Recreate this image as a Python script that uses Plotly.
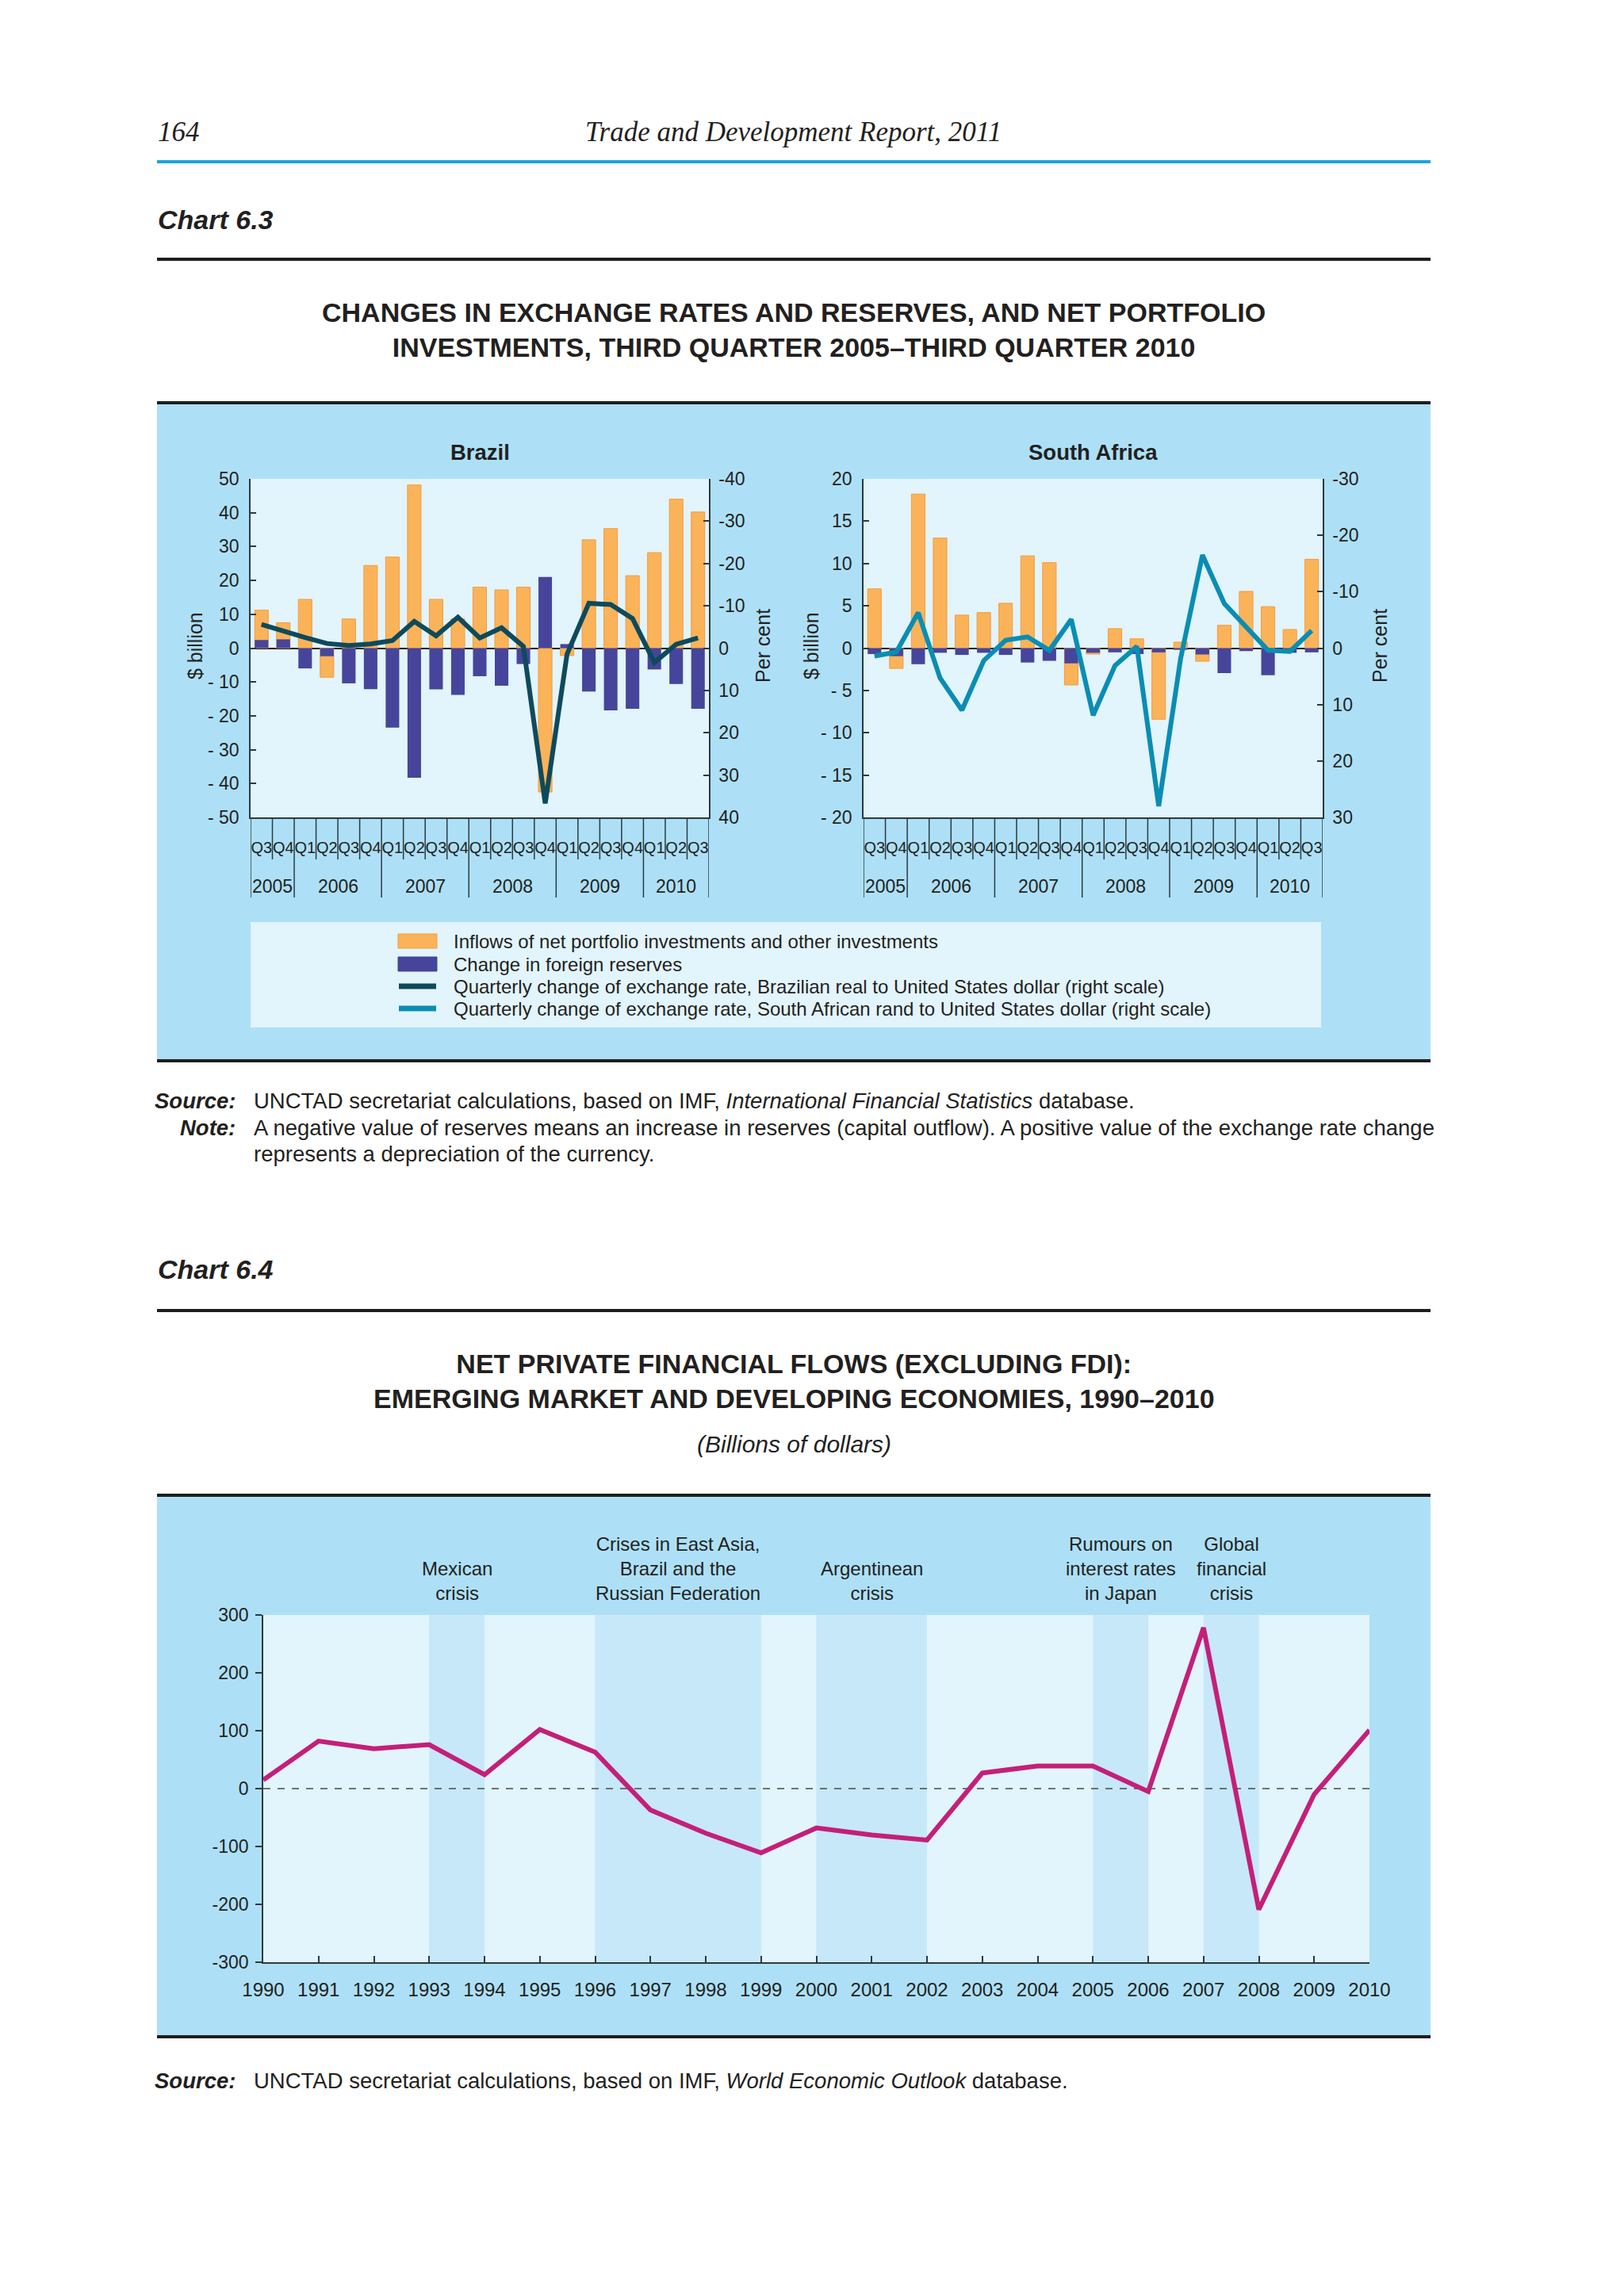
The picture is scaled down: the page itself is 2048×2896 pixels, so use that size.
import plotly.graph_objects as go

W, H = 2048, 2896
OFF = 8  # default page margin of the html body


def px(x):
    return (x - OFF) / W


def py(y):
    return 1 - (y - OFF) / H


# ---------------- DATA ----------------
quarters = ["Q3", "Q4", "Q1", "Q2", "Q3", "Q4", "Q1", "Q2", "Q3", "Q4", "Q1",
            "Q2", "Q3", "Q4", "Q1", "Q2", "Q3", "Q4", "Q1", "Q2", "Q3"]
quarter_years = ["2005"] * 2 + ["2006"] * 4 + ["2007"] * 4 + ["2008"] * 4 + ["2009"] * 4 + ["2010"] * 3

brazil_inflows = [11.2, 7.5, 14.4, -8.6, 8.6, 24.4, 26.9, 48.2, 14.4, 8.7, 18.0,
                  17.2, 18.0, -42.5, -2.2, 32.0, 35.3, 21.4, 28.2, 44.0, 40.2]
brazil_reserves = [2.4, 2.6, -6.0, -2.4, -10.4, -12.1, -23.5, -38.3, -12.2, -13.8, -8.3,
                   -11.1, -4.7, 21.0, 1.2, -12.8, -18.4, -17.9, -6.3, -10.6, -17.9]
brazil_fx = [-5.6, -4.0, -2.5, -1.1, -0.6, -1.0, -1.8, -6.3, -2.9, -7.3, -2.4,
             -4.8, -0.4, 36.7, 1.4, -10.6, -10.3, -7.0, 3.4, -0.9, -2.4]

sa_inflows = [7.0, -2.4, 18.2, 13.0, 3.9, 4.2, 5.3, 10.9, 10.1, -4.35, -0.7,
              2.3, 1.1, -8.4, 0.7, -1.55, 2.7, 6.7, 4.9, 2.2, 10.5]
sa_reserves = [-0.7, -0.95, -1.9, -0.55, -0.8, -0.55, -0.8, -1.7, -1.5, -1.8, -0.55,
               -0.5, -0.7, -0.5, -0.2, -0.75, -2.95, -0.35, -3.2, -0.55, -0.5]
sa_fx = [1.4, 0.7, -6.3, 5.3, 11.0, 2.2, -1.4, -2.0, 0.4, -5.1, 11.9,
         3.1, -0.3, 28.0, 1.9, -16.5, -7.9, -3.8, 0.4, 0.6, -3.1]

flow_years = list(range(1990, 2011))
net_flows = [15, 82, 69, 76, 24, 102, 63, -37, -77, -111, -68, -80, -89,
             27, 39, 39, -5, 278, -209, -10, 101]

crisis_periods = [(1993, 1994), (1996, 1999), (2000, 2002), (2005, 2006), (2007, 2008)]
crisis_labels = ["Mexican<br>crisis",
                 "Crises in East Asia,<br>Brazil and the<br>Russian Federation",
                 "Argentinean<br>crisis",
                 "Rumours on<br>interest rates<br>in Japan",
                 "Global<br>financial<br>crisis"]

legend_names = ["Inflows of net portfolio investments and other investments",
                "Change in foreign reserves",
                "Quarterly change of exchange rate, Brazilian real to United States dollar (right scale)",
                "Quarterly change of exchange rate, South African rand to United States dollar (right scale)"]

# ---------------- STYLE ----------------
FONT = "Liberation Sans, Arial, sans-serif"
SERIF = "Liberation Serif, Times New Roman, serif"
TXT = "#231f20"
AX = "#2b3a42"
ORANGE = "#fbb35a"
ORANGE_EDGE = "#f29c3a"
PURPLE = "#46459b"
BRAZIL_LINE = "#0e4a5c"
SA_LINE = "#0a8db3"
MAGENTA = "#c41f7a"
PANEL = "#ade0f6"
INNER = "#e2f4fc"
BAND = "#c6e8f8"

idx = list(range(len(quarters)))

fig = go.Figure()

# Brazil
fig.add_trace(go.Bar(x=idx, y=brazil_inflows, xaxis="x", yaxis="y", width=0.62,
                     marker=dict(color=ORANGE, line=dict(color=ORANGE_EDGE, width=1)),
                     name=legend_names[0], showlegend=False))
fig.add_trace(go.Bar(x=idx, y=brazil_reserves, xaxis="x", yaxis="y", width=0.62,
                     marker=dict(color=PURPLE, line=dict(color=PURPLE, width=0)),
                     name=legend_names[1], showlegend=False))
fig.add_trace(go.Scatter(x=idx, y=brazil_fx, xaxis="x", yaxis="y2", mode="lines",
                         line=dict(color=BRAZIL_LINE, width=6), name=legend_names[2],
                         showlegend=False))
# South Africa
fig.add_trace(go.Bar(x=idx, y=sa_inflows, xaxis="x2", yaxis="y3", width=0.62,
                     marker=dict(color=ORANGE, line=dict(color=ORANGE_EDGE, width=1)),
                     name=legend_names[0], showlegend=False))
fig.add_trace(go.Bar(x=idx, y=sa_reserves, xaxis="x2", yaxis="y3", width=0.62,
                     marker=dict(color=PURPLE, line=dict(color=PURPLE, width=0)),
                     name=legend_names[1], showlegend=False))
fig.add_trace(go.Scatter(x=idx, y=sa_fx, xaxis="x2", yaxis="y4", mode="lines",
                         line=dict(color=SA_LINE, width=6), name=legend_names[3],
                         showlegend=False))
# Chart 6.4
fig.add_trace(go.Scatter(x=flow_years, y=net_flows, xaxis="x3", yaxis="y5", mode="lines",
                         line=dict(color=MAGENTA, width=6), showlegend=False,
                         name="Net private financial flows"))


def fmt_left(v):
    return "- " + str(abs(v)) if v < 0 else str(v)


def fmt_plain(v):
    return "-" + str(abs(v)) if v < 0 else str(v)


tick_font = dict(family=FONT, size=23, color=TXT)
common_axis = dict(showgrid=False, showline=True, linecolor=AX, linewidth=1.5,
                   tickcolor=AX, tickwidth=1.5, automargin=False, tickfont=tick_font)

br_left = list(range(-50, 51, 10))
br_right = list(range(-40, 41, 10))
sa_left = list(range(-20, 21, 5))
sa_right = list(range(-30, 31, 10))
fl_ticks = list(range(-300, 301, 100))

y_dom = [py(1031), py(604)]
q_font = dict(family=FONT, size=20, color=TXT)

fig.update_layout(
    width=W, height=H, margin=dict(l=0, r=0, t=0, b=0),
    paper_bgcolor="white", plot_bgcolor="rgba(0,0,0,0)",
    barmode="overlay", font=dict(family=FONT, color=TXT), showlegend=False,
    xaxis=dict(domain=[px(316), px(894)], anchor="y", range=[-0.5, 20.5],
               tickmode="array", tickvals=idx, ticktext=quarters, ticks="", tickangle=0,
               tickfont=q_font, ticklabelstandoff=19,
               zeroline=False, showgrid=False, showline=True, linecolor=AX, linewidth=1.5,
               automargin=False),
    yaxis=dict(domain=y_dom, anchor="x", range=[-50, 50], tickmode="array",
               tickvals=br_left, ticktext=[fmt_left(v) for v in br_left],
               ticks="inside", ticklen=7, zeroline=True, zerolinecolor="#1e1e1e",
               zerolinewidth=1.5, ticklabelstandoff=8, **common_axis),
    yaxis2=dict(overlaying="y", side="right", anchor="x", range=[40, -40], tickmode="array",
                tickvals=br_right, ticktext=[fmt_plain(v) for v in br_right],
                ticks="inside", ticklen=7, zeroline=False, ticklabelstandoff=6, **common_axis),
    xaxis2=dict(domain=[px(1089), px(1668)], anchor="y3", range=[-0.5, 20.5],
                tickmode="array", tickvals=idx, ticktext=quarters, ticks="", tickangle=0,
                tickfont=q_font, ticklabelstandoff=19,
                zeroline=False, showgrid=False, showline=True, linecolor=AX, linewidth=1.5,
                automargin=False),
    yaxis3=dict(domain=y_dom, anchor="x2", range=[-20, 20], tickmode="array",
                tickvals=sa_left, ticktext=[fmt_left(v) for v in sa_left],
                ticks="inside", ticklen=7, zeroline=True, zerolinecolor="#1e1e1e",
                zerolinewidth=1.5, ticklabelstandoff=8, **common_axis),
    yaxis4=dict(overlaying="y3", side="right", anchor="x2", range=[30, -30], tickmode="array",
                tickvals=sa_right, ticktext=[fmt_plain(v) for v in sa_right],
                ticks="inside", ticklen=7, zeroline=False, ticklabelstandoff=6, **common_axis),
    xaxis3=dict(domain=[px(332), px(1727)], anchor="y5", range=[1990, 2010],
                tickmode="array", tickvals=flow_years, ticktext=[str(y) for y in flow_years],
                ticks="inside", ticklen=8, zeroline=False, ticklabelstandoff=12, tickangle=0,
                showgrid=False, showline=True, linecolor=AX, linewidth=2, tickcolor=AX,
                tickwidth=1.5, automargin=False, tickfont=dict(family=FONT, size=24, color=TXT)),
    yaxis5=dict(domain=[py(2475), py(2037)], anchor="x3", range=[-300, 300], tickmode="array",
                tickvals=fl_ticks, ticktext=[fmt_plain(v) for v in fl_ticks],
                ticks="outside", ticklen=8, zeroline=False, ticklabelstandoff=4, **common_axis),
)

shapes = []
annotations = []


def hrule(y, color="#1e1e1e", width=4):
    shapes.append(dict(type="line", xref="paper", yref="paper", x0=px(198), x1=px(1804),
                       y0=py(y), y1=py(y), line=dict(color=color, width=width), layer="above"))


def txt(x, y, text, size, xanchor="left", family=FONT, angle=0, yanchor="middle"):
    annotations.append(dict(xref="paper", yref="paper", x=px(x), y=py(y), text=text,
                            showarrow=False, xanchor=xanchor, yanchor=yanchor, textangle=angle,
                            font=dict(family=family, size=size, color=TXT), align="center"))


# panels (paper, below)
shapes.append(dict(type="rect", xref="paper", yref="paper", x0=px(198), x1=px(1804),
                   y0=py(1336), y1=py(509), fillcolor=PANEL, line=dict(width=0), layer="below"))
shapes.append(dict(type="rect", xref="paper", yref="paper", x0=px(198), x1=px(1804),
                   y0=py(2568), y1=py(1887), fillcolor=PANEL, line=dict(width=0), layer="below"))
# legend box
shapes.append(dict(type="rect", xref="paper", yref="paper", x0=px(316), x1=px(1666),
                   y0=py(1296), y1=py(1163), fillcolor=INNER, line=dict(width=0), layer="below"))
# plot-area backgrounds
for xr, yr in [("x", "y"), ("x2", "y3"), ("x3", "y5")]:
    shapes.append(dict(type="rect", xref=xr + " domain", yref=yr + " domain", x0=0, x1=1, y0=0, y1=1,
                       fillcolor=INNER, line=dict(width=0), layer="below"))
# crisis bands
for a, b in crisis_periods:
    shapes.append(dict(type="rect", xref="x3", yref="y5", x0=a, x1=b, y0=-300, y1=300,
                       fillcolor=BAND, line=dict(width=0), layer="below"))
shapes.append(dict(type="line", xref="x3", yref="y5", x0=flow_years[0], x1=flow_years[-1], y0=0, y1=0,
                   line=dict(color="#4a4a4a", width=1.5, dash="dash"), layer="below"))

# rules
shapes.append(dict(type="line", xref="paper", yref="paper", x0=px(198), x1=px(1804),
                   y0=py(204), y1=py(204), line=dict(color="#1ba4dd", width=4), layer="above"))
for y in (327, 508, 1338, 1653, 1886, 2569):
    hrule(y)

# quarter / year separators under the 6.3 panels
for xr in ("x", "x2"):
    n = len(quarters)
    for i in range(n + 1):
        b = i - 0.5
        is_year = (i == 0 or i == n or quarter_years[i] != quarter_years[i - 1])
        shapes.append(dict(type="line", xref=xr, yref="paper", x0=b, x1=b,
                           y0=py(1031), y1=py(1132 if is_year else 1084),
                           line=dict(color=AX, width=1.5), layer="above"))
    seen = []
    for yname in quarter_years:
        if yname not in seen:
            seen.append(yname)
    for yname in seen:
        pos = [i for i, q in enumerate(quarter_years) if q == yname]
        annotations.append(dict(xref=xr, yref="paper", x=sum(pos) / len(pos), y=py(1118),
                                text=yname, showarrow=False, xanchor="center", yanchor="middle",
                                font=dict(family=FONT, size=23, color=TXT)))

# legend (drawn manually inside its box)
leg_rows = [1187, 1216, 1244, 1272]
leg_styles = [("bar", ORANGE, ORANGE_EDGE), ("bar", PURPLE, PURPLE),
              ("line", BRAZIL_LINE, None), ("line", SA_LINE, None)]
for yrow, (kind, col, edge), name in zip(leg_rows, leg_styles, legend_names):
    if kind == "bar":
        shapes.append(dict(type="rect", xref="paper", yref="paper", x0=px(502), x1=px(551),
                           y0=py(yrow + 9), y1=py(yrow - 9), fillcolor=col,
                           line=dict(color=edge, width=1), layer="above"))
    else:
        shapes.append(dict(type="line", xref="paper", yref="paper", x0=px(503), x1=px(550),
                           y0=py(yrow), y1=py(yrow), line=dict(color=col, width=7), layer="above"))
    txt(570, yrow, name, 24)

# header
txt(197, 166, "<i>164</i>", 35, family=SERIF)
txt(1000, 166, "<i>Trade and Development Report, 2011</i>", 35, xanchor="center", family=SERIF)
txt(197, 277, "<b><i>Chart 6.3</i></b>", 34)
txt(1001, 416, "<b>CHANGES IN EXCHANGE RATES AND RESERVES, AND NET PORTFOLIO<br>"
               "INVESTMENTS, THIRD QUARTER 2005–THIRD QUARTER 2010</b>", 34, xanchor="center")
txt(605, 571, "<b>Brazil</b>", 27.5, xanchor="center")
txt(1378, 571, "<b>South Africa</b>", 27.5, xanchor="center")
txt(246, 815, "$ billion", 25, xanchor="center", angle=-90)
txt(962, 815, "Per cent", 25, xanchor="center", angle=-90)
txt(1023, 815, "$ billion", 25, xanchor="center", angle=-90)
txt(1740, 815, "Per cent", 25, xanchor="center", angle=-90)

txt(299, 1389, "<b><i>Source:</i></b>", 27.5, xanchor="right")
txt(318, 1389, "UNCTAD secretariat calculations, based on IMF, <i>International Financial Statistics</i> database.", 27.5)
txt(299, 1422, "<b><i>Note:</i></b>", 27.5, xanchor="right")
txt(318, 1422, "A negative value of reserves means an increase in reserves (capital outflow). "
               "A positive value of the exchange rate change", 27.5)
txt(318, 1455, "represents a depreciation of the currency.", 27.5)

txt(197, 1601, "<b><i>Chart 6.4</i></b>", 34)
txt(1001, 1742, "<b>NET PRIVATE FINANCIAL FLOWS (EXCLUDING FDI):<br>"
                "EMERGING MARKET AND DEVELOPING ECONOMIES, 1990–2010</b>", 34, xanchor="center")
txt(1001, 1821, "<i>(Billions of dollars)</i>", 30, xanchor="center")

for (a, b), lab in zip(crisis_periods, crisis_labels):
    annotations.append(dict(xref="x3", yref="paper", x=(a + b) / 2, y=py(2025), text=lab,
                            showarrow=False, xanchor="center", yanchor="bottom", align="center",
                            font=dict(family=FONT, size=24, color=TXT)))

txt(299, 2624, "<b><i>Source:</i></b>", 27.5, xanchor="right")
txt(318, 2624, "UNCTAD secretariat calculations, based on IMF, <i>World Economic Outlook</i> database.", 27.5)

fig.update_layout(shapes=shapes, annotations=annotations)

fig.write_html("out.html")
